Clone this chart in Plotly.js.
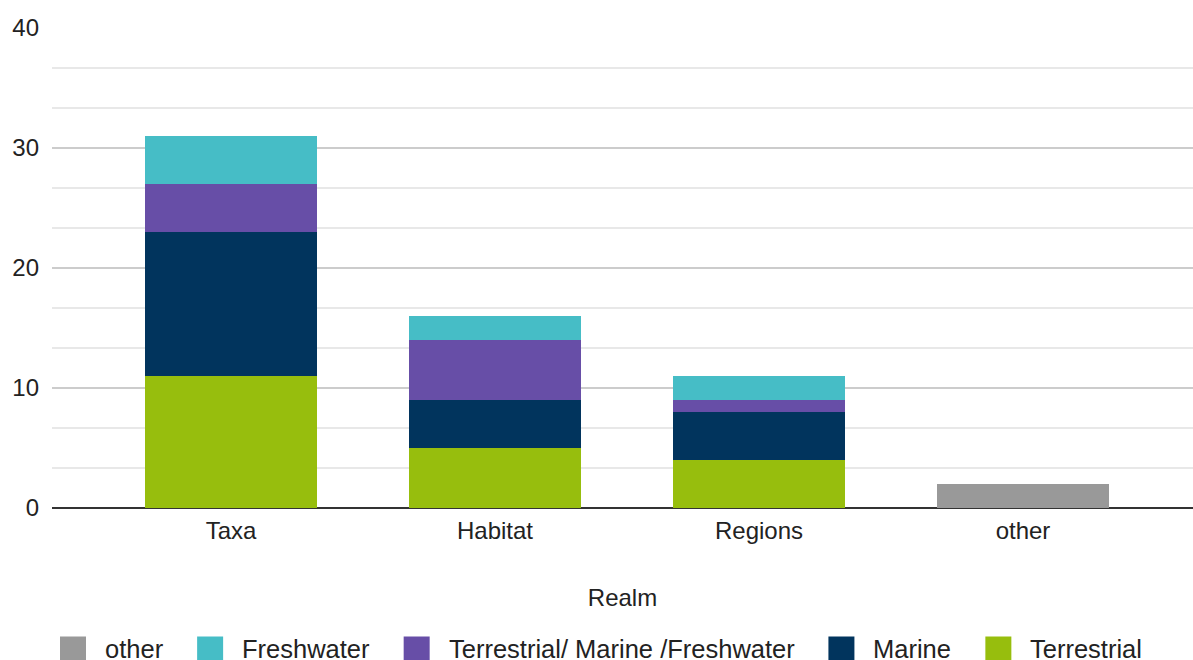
<!DOCTYPE html>
<html>
<head>
<meta charset="utf-8">
<script src="https://cdn.plot.ly/plotly-3.0.1.min.js"></script>
<style>
  html, body { margin: 0; padding: 0; background: #fff; }
  #chart { width: 1193px; height: 660px; }
</style>
</head>
<body>
<div id="chart"></div>
<script>
// Number of studies per realm, split by environment
const categories = ['Taxa', 'Habitat', 'Regions', 'other'];
const terrestrial = [11, 5, 4, null];
const marine = [12, 4, 4, null];
const mixedRealm = [4, 5, 1, null];
const freshwater = [4, 2, 2, null];
const otherRealm = [null, null, null, 2];

const seriesNames = ['Terrestrial', 'Marine', 'Terrestrial/ Marine /Freshwater', 'Freshwater', 'other'];
const seriesColors = ['#97be0d', '#01345d', '#674ea7', '#46bdc6', '#999999'];
const seriesValues = [terrestrial, marine, mixedRealm, freshwater, otherRealm];

const yTicks = [0, 10, 20, 30, 40];

const FONT = 'Liberation Sans, Arial, sans-serif';
const W = 1193, H = 660;
const plotLeft = 52, plotRight = 1193, plotTop = 28, plotBottom = 508;

const traces = seriesNames.map((name, i) => ({
  type: 'bar',
  name: name,
  x: categories,
  y: seriesValues[i],
  marker: {
    color: seriesColors[i],
    line: { width: 0 },
    cornerradius: name === 'other' ? 3 : 0
  },
  showlegend: false,
  hoverinfo: 'x+y+name'
}));

// Legend row drawn as square swatches plus text, laid out left to right
const legendFontSize = 25.5;
const measure = document.createElement('canvas').getContext('2d');
measure.font = legendFontSize + 'px "Liberation Sans", Arial, sans-serif';
const toPaperX = px => (px - plotLeft) / (plotRight - plotLeft);
const toPaperY = py => (plotBottom - py) / (plotBottom - plotTop);

const shapes = [];
const annotations = [];
let cursor = 60;
const swatch = 26, swatchTop = 636.5, textGap = 17, itemGap = 36;
for (let k = seriesNames.length - 1; k >= 0; k--) {
  shapes.push({
    type: 'rect', xref: 'paper', yref: 'paper',
    x0: toPaperX(cursor), x1: toPaperX(cursor + swatch),
    y0: toPaperY(swatchTop), y1: toPaperY(swatchTop + swatch),
    fillcolor: seriesColors[k], line: { width: 0 }, layer: 'above'
  });
  annotations.push({
    xref: 'paper', yref: 'paper',
    x: toPaperX(cursor + swatch + textGap), y: toPaperY(swatchTop + swatch / 2 - 1),
    xanchor: 'left', yanchor: 'middle',
    text: seriesNames[k], showarrow: false,
    font: { family: FONT, size: legendFontSize, color: '#222222' }
  });
  cursor += swatch + textGap + measure.measureText(seriesNames[k]).width + itemGap;
}

const layout = {
  width: W, height: H,
  margin: { l: plotLeft, r: W - plotRight, t: plotTop, b: H - plotBottom },
  paper_bgcolor: '#ffffff',
  plot_bgcolor: '#ffffff',
  barmode: 'stack',
  bargap: 0.352,
  showlegend: false,
  font: { family: FONT, size: 24, color: '#222222' },
  xaxis: {
    type: 'category',
    range: [-0.678, 3.644],
    showgrid: false,
    showline: false,
    ticks: '',
    ticklabelstandoff: 6,
    tickfont: { family: FONT, size: 24, color: '#222222' },
    title: { text: 'Realm', font: { family: FONT, size: 24, color: '#222222' }, standoff: 46 },
    fixedrange: true
  },
  yaxis: {
    range: [0, 40],
    tickvals: yTicks,
    ticktext: yTicks.map(String),
    showgrid: true,
    gridcolor: '#cccccc',
    gridwidth: 2,
    zeroline: true,
    zerolinecolor: '#333333',
    zerolinewidth: 2,
    showline: false,
    ticks: '',
    ticklabelstandoff: 12,
    tickfont: { family: FONT, size: 24, color: '#222222' },
    minor: { dtick: 10 / 3, tick0: 0, showgrid: true, gridcolor: '#e8e8e8', gridwidth: 2 },
    fixedrange: true
  },
  shapes: shapes,
  annotations: annotations
};

Plotly.newPlot('chart', traces, layout, { displayModeBar: false, staticPlot: true });
</script>
</body>
</html>
